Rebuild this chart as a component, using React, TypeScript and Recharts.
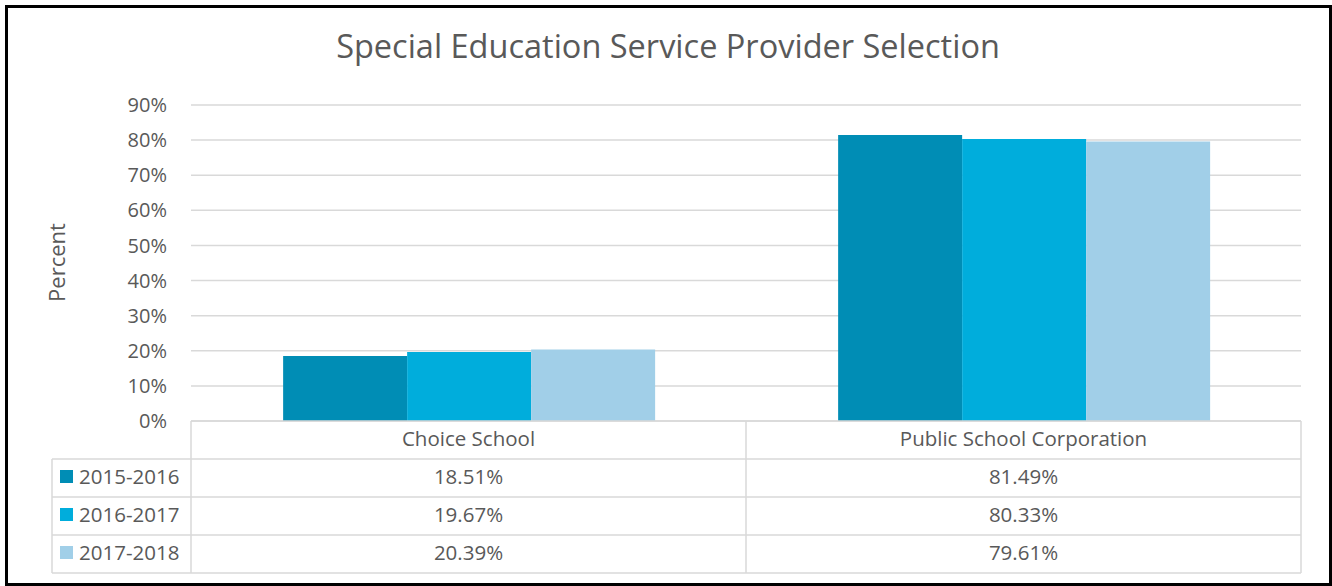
import React from 'react';
import { BarChart, Bar, XAxis, YAxis, CartesianGrid } from 'recharts';

const categories = ['Choice School', 'Public School Corporation'];
const seriesNames = ['2015-2016', '2016-2017', '2017-2018'];
const values2015 = [18.51, 81.49];
const values2016 = [19.67, 80.33];
const values2017 = [20.39, 79.61];
const yTicks = [0, 10, 20, 30, 40, 50, 60, 70, 80, 90];
const colors = ['#008DB5', '#00ADDC', '#A1CFE8'];

const seriesValues = [values2015, values2016, values2017];
const seriesKeys = ['s2015', 's2016', 's2017'];

const data = categories.map((c, i) => ({
  name: c,
  s2015: values2015[i],
  s2016: values2016[i],
  s2017: values2017[i],
}));

const W = 1332;
const H = 586;
const MARGIN = { top: 105, right: 31, bottom: 13, left: 0 };
const Y_AXIS_W = 191;
const X_AXIS_H = 152;
const PLOT_W = W - MARGIN.left - MARGIN.right - Y_AXIS_W;
const BAND = PLOT_W / categories.length;
const ROW_H = 38;
const LEGEND_LEFT = 52;
const TEXT = '#595959';
const LINE = '#D9D9D9';
const FONT = '"Open Sans", sans-serif';
const TABLE_FS = 20.5;

const fmt = (v: number) => v.toFixed(2) + '%';

const TableTick = (props: any) => {
  const { x, y, payload } = props;
  const idx = payload.index;
  const left = x - BAND / 2;
  const right = x + BAND / 2;
  const top = y;
  const rows = seriesNames.length;
  const bottom = top + ROW_H * (rows + 1);
  const els: React.ReactNode[] = [];
  // vertical right edge
  els.push(<line key="vr" x1={right} y1={top} x2={right} y2={bottom} stroke={LINE} strokeWidth={1.5} />);
  if (idx === 0) {
    els.push(<line key="vl" x1={left} y1={top} x2={left} y2={bottom} stroke={LINE} strokeWidth={1.5} />);
    els.push(
      <line key="vll" x1={LEGEND_LEFT} y1={top + ROW_H} x2={LEGEND_LEFT} y2={bottom} stroke={LINE} strokeWidth={1.5} />
    );
    for (let r = 1; r <= rows; r++) {
      const ly = top + ROW_H * r;
      els.push(<line key={'lh' + r} x1={LEGEND_LEFT} y1={ly} x2={left} y2={ly} stroke={LINE} strokeWidth={1.5} />);
    }
    els.push(
      <line key="lhb" x1={LEGEND_LEFT} y1={bottom} x2={left} y2={bottom} stroke={LINE} strokeWidth={1.5} />
    );
    seriesNames.forEach((s, r) => {
      const cy = top + ROW_H * (r + 1) + ROW_H / 2 - 1.5;
      els.push(<rect key={'sw' + r} x={60} y={cy - 6.5} width={13} height={13} fill={colors[r]} />);
      els.push(
        <text key={'lt' + r} x={79} y={cy} dy="0.355em" fontSize={TABLE_FS} fontFamily={FONT} fill={TEXT}>
          {s}
        </text>
      );
    });
  }
  for (let r = 1; r <= rows; r++) {
    const ly = top + ROW_H * r;
    els.push(<line key={'h' + r} x1={left} y1={ly} x2={right} y2={ly} stroke={LINE} strokeWidth={1.5} />);
  }
  els.push(<line key="hb" x1={left} y1={bottom} x2={right} y2={bottom} stroke={LINE} strokeWidth={1.5} />);
  els.push(
    <text key="cat" x={x} y={top + ROW_H / 2 - 1.5} dy="0.355em" textAnchor="middle" fontSize={TABLE_FS} fontFamily={FONT} fill={TEXT}>
      {payload.value}
    </text>
  );
  seriesValues.forEach((vals, r) => {
    const cy = top + ROW_H * (r + 1) + ROW_H / 2 - 1.5;
    els.push(
      <text key={'v' + r} x={x} y={cy} dy="0.355em" textAnchor="middle" fontSize={TABLE_FS} fontFamily={FONT} fill={TEXT}>
        {fmt(vals[idx])}
      </text>
    );
  });
  return <g>{els}</g>;
};

export default function App() {
  return (
    <div style={{ position: 'absolute', left: 0, top: 0, width: W, height: H, background: '#fff' }}>
      <BarChart
        width={W}
        height={H}
        data={data}
        margin={MARGIN}
        barCategoryGap="16.6%"
        barGap={0}
      >
        <CartesianGrid vertical={false} stroke={LINE} strokeWidth={1.5} />
        <XAxis
          dataKey="name"
          height={X_AXIS_H}
          axisLine={{ stroke: LINE, strokeWidth: 1.5 }}
          tickLine={false}
          tickSize={0}
          tickMargin={0}
          interval={0}
          tick={<TableTick />}
        />
        <YAxis
          width={Y_AXIS_W}
          domain={[0, 90]}
          ticks={yTicks}
          axisLine={false}
          tickLine={false}
          tickSize={0}
          tickMargin={24}
          tickFormatter={(v: number) => v + '%'}
          tick={{ fill: TEXT, fontSize: 20, fontFamily: FONT }}
        />
        {seriesKeys.map((k, i) => (
          <Bar key={k} dataKey={k} name={seriesNames[i]} fill={colors[i]} isAnimationActive={false} />
        ))}
      </BarChart>
      <svg width={W} height={H} style={{ position: 'absolute', left: 0, top: 0, pointerEvents: 'none' }}>
        <text x={668} y={58} textAnchor="middle" fontSize={32.5} fontFamily={FONT} fill={TEXT}>
          Special Education Service Provider Selection
        </text>
        <text
          x={65}
          y={262.5}
          textAnchor="middle"
          fontSize={22}
          fontFamily={FONT}
          fill={TEXT}
          transform="rotate(-90, 65, 262.5)"
        >
          Percent
        </text>
        <rect x={6.5} y={6.5} width={1324} height={578} fill="none" stroke="#000" strokeWidth={3} />
      </svg>
    </div>
  );
}
